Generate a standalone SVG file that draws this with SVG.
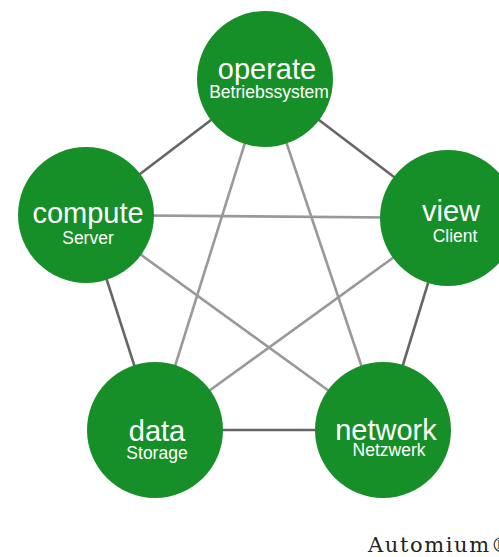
<svg xmlns="http://www.w3.org/2000/svg" width="499" height="557" viewBox="0 0 499 557">
<style>
.outer{stroke:#666;stroke-width:2.6;fill:none}
.inner{stroke:#999;stroke-width:2.6;fill:none}
.c{fill:#168F28}
.t1{font-family:"Liberation Sans",Arial,sans-serif;font-size:29px;fill:#fff;text-anchor:middle}
.t2{font-family:"Liberation Sans",Arial,sans-serif;font-size:17.5px;fill:#fff;text-anchor:middle}
.logo{font-family:"DejaVu Serif","Liberation Serif",serif;font-size:21px;fill:#222;letter-spacing:1.6px}
</style>
<rect width="499" height="557" fill="#fff"/>
<g id="connectors">
<line class="outer" x1="265" y1="79" x2="448" y2="218"/>
<line class="outer" x1="448" y1="218" x2="383" y2="430"/>
<line class="outer" x1="383" y1="430" x2="155" y2="430"/>
<line class="outer" x1="155" y1="430" x2="86" y2="215"/>
<line class="outer" x1="86" y1="215" x2="265" y2="79"/>
<line class="inner" x1="265" y1="79" x2="155" y2="430"/>
<line class="inner" x1="265" y1="79" x2="383" y2="430"/>
<line class="inner" x1="86" y1="215" x2="448" y2="218"/>
<line class="inner" x1="86" y1="215" x2="383" y2="430"/>
<line class="inner" x1="448" y1="218" x2="155" y2="430"/>
</g>
<g id="operate">
<circle class="c" cx="265" cy="79" r="68"/>
<text class="t1" x="267" y="79">operate</text>
<text class="t2" x="269" y="98">Betriebssystem</text>
</g>
<g id="compute">
<circle class="c" cx="86" cy="215" r="68"/>
<text class="t1" x="88" y="223">compute</text>
<text class="t2" x="88" y="244">Server</text>
</g>
<g id="view">
<circle class="c" cx="448" cy="218" r="68"/>
<text class="t1" x="451" y="221">view</text>
<text class="t2" x="455" y="242">Client</text>
</g>
<g id="data">
<circle class="c" cx="155" cy="430" r="68"/>
<text class="t1" x="157" y="441">data</text>
<text class="t2" x="157" y="459">Storage</text>
</g>
<g id="network">
<circle class="c" cx="383" cy="430" r="68"/>
<text class="t1" x="386" y="440">network</text>
<text class="t2" x="389" y="456">Netzwerk</text>
</g>
<text class="logo" x="368" y="552">Automium®</text>
</svg>
